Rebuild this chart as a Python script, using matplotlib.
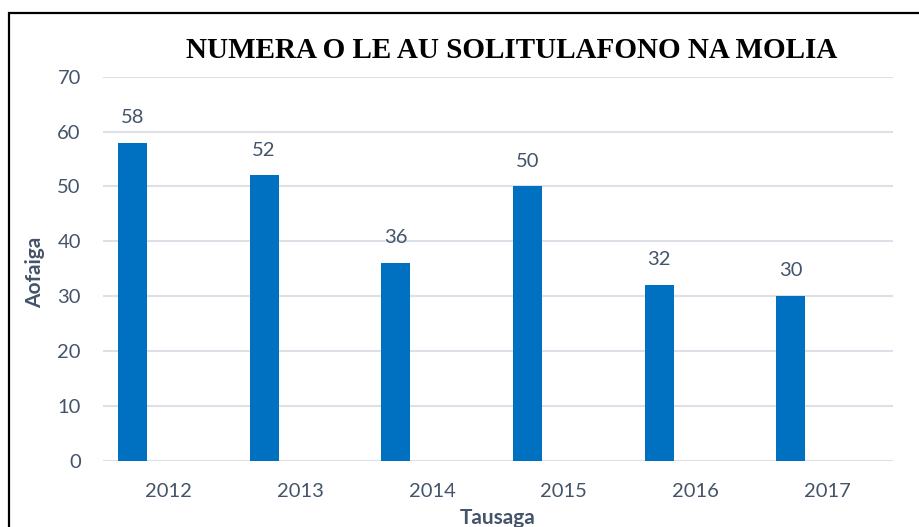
import numpy as np
import matplotlib
matplotlib.use("Agg")
import matplotlib.pyplot as plt
from matplotlib.patches import Rectangle

# Data
years = ["2012", "2013", "2014", "2015", "2016", "2017"]
counts = [58, 52, 36, 50, 32, 30]

BAR_COLOR = "#0070C0"
TEXT_COLOR = "#44546A"
GRID_COLOR = "#DCE1E8"

fig = plt.figure(figsize=(9.19, 5.27), dpi=100)
ax = fig.add_axes([0.1121, 0.1258, 0.8596, 0.7287])

x = np.arange(len(years))
bars = ax.bar(x - 0.277, counts, width=0.22, color=BAR_COLOR, zorder=3)

# Value labels above each bar
for xi, v in zip(x, counts):
    ax.text(xi - 0.277, v + 4.6, str(v), ha="center", va="center",
            fontsize=14.5, color=TEXT_COLOR, family="Lato")

ax.set_xlim(-0.5, len(years) - 0.5)
ax.set_ylim(0, 70)
ax.set_yticks(np.arange(0, 71, 10))
ax.set_xticks(x)
ax.set_xticklabels(years)
ax.yaxis.grid(True, color=GRID_COLOR, lw=1.5, zorder=0)
ax.set_axisbelow(True)
for s in ax.spines.values():
    s.set_visible(False)
ax.tick_params(axis="both", length=0, labelsize=14.5, labelcolor=TEXT_COLOR)
ax.tick_params(axis="y", pad=16)
ax.tick_params(axis="x", pad=16)
for lbl in ax.get_xticklabels() + ax.get_yticklabels():
    lbl.set_family("Lato")

ax.set_xlabel("Tausaga", fontsize=15, fontweight="bold", color=TEXT_COLOR,
              family="Lato", va="center")
ax.xaxis.set_label_coords(0.5, -0.148)
ax.set_ylabel("Aofaiga", fontsize=15, fontweight="bold", color=TEXT_COLOR,
              family="Lato", va="center")
ax.yaxis.set_label_coords(-0.086, 0.49)

fig.text(0.557, 0.905, "NUMERA O LE AU SOLITULAFONO NA MOLIA", ha="center",
         va="center", fontsize=21, fontweight="bold", family="Liberation Serif",
         color="black")

# Outer chart frame
fig.patches.append(Rectangle((8.5 / 919, -0.05), 1.0, 1 - 12.5 / 527 + 0.05,
                             transform=fig.transFigure, fill=False,
                             edgecolor="black", lw=1.6))

fig.savefig("out.png", dpi=100)
